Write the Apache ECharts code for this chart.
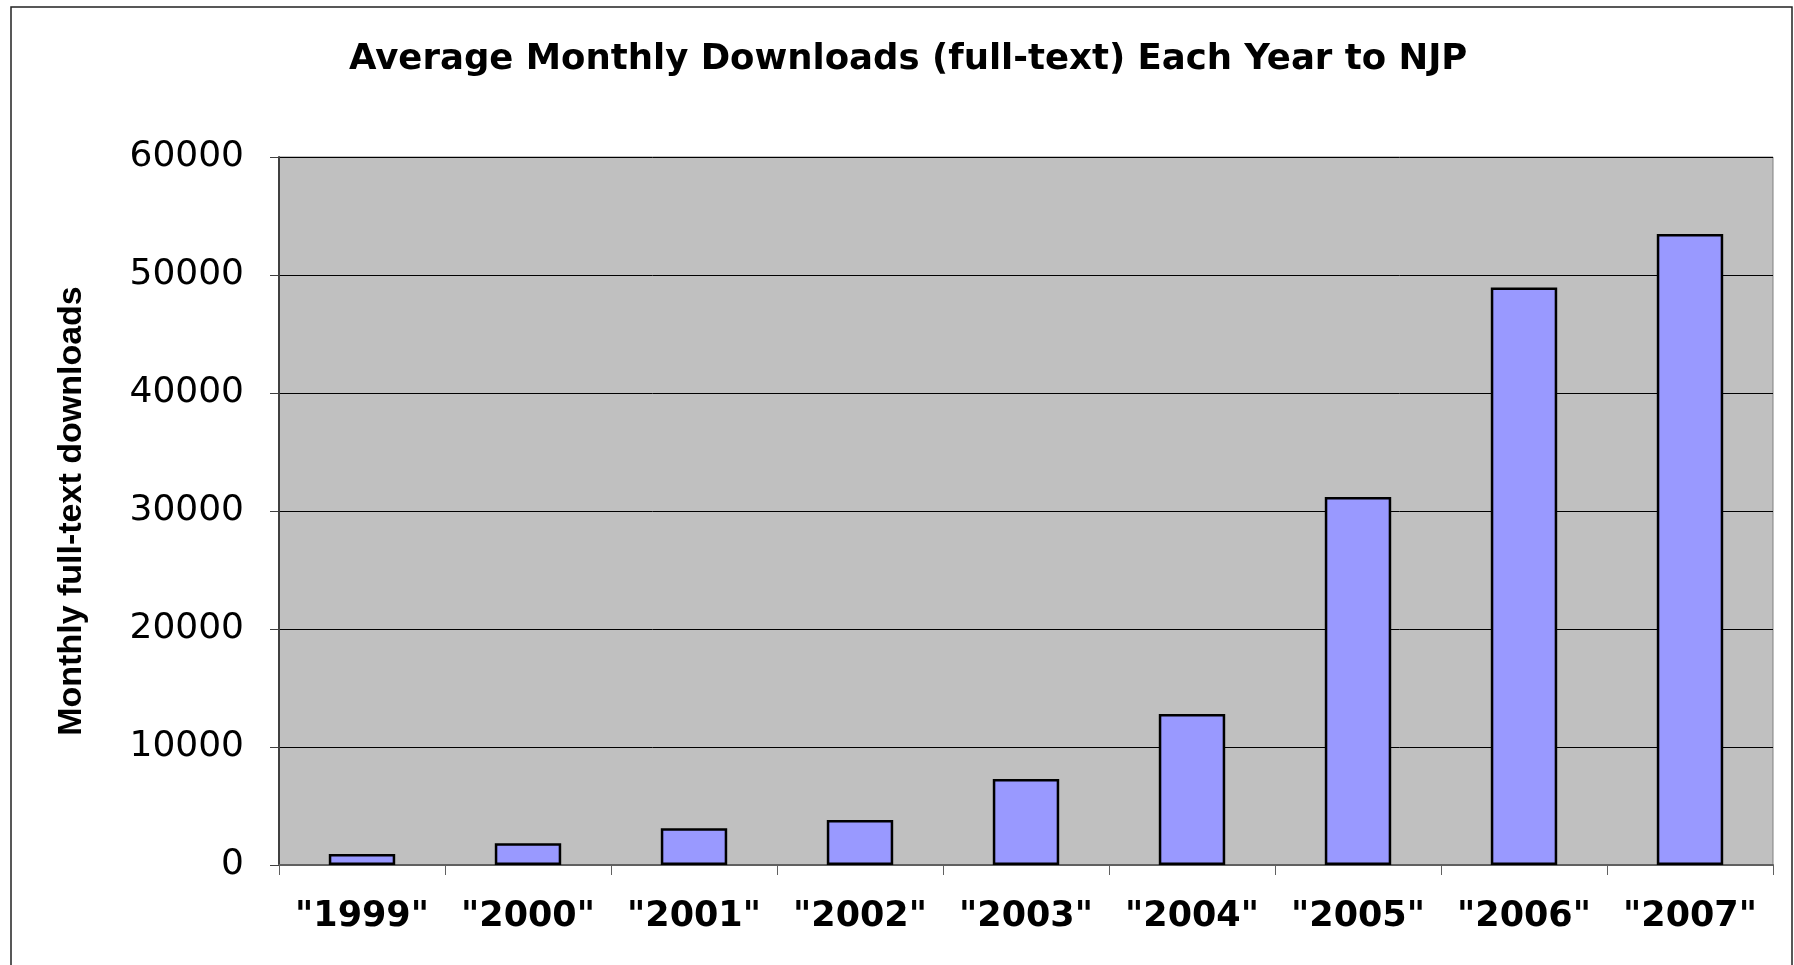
<!DOCTYPE html>
<html>
<head>
    <meta charset="utf-8">
    <script src="https://cdn.jsdelivr.net/npm/echarts@6/dist/echarts.min.js"></script>
    <style>
        * { margin: 0; padding: 0; }
        html, body { width: 100%; height: 100%; background: #fff; }
        .box { width: 1794px; height: 965px; position: absolute; }
    </style>
</head>
<body>
    <div class="box" id="main"></div>
    <script type="text/javascript">
        // 年份 和 每月平均下载量
        var years = ['"1999"', '"2000"', '"2001"', '"2002"', '"2003"', '"2004"', '"2005"', '"2006"', '"2007"'];
        var downloads = [935, 1840, 3120, 3820, 7280, 12790, 31180, 48940, 53480];
        var yTicks = [0, 10000, 20000, 30000, 40000, 50000, 60000];

        var myChart = echarts.init(document.getElementById('main'));
        var wideFont = '"DejaVu Sans", Verdana, sans-serif';
        var armFont = '"Liberation Sans", Arial, sans-serif';

        var option = {
            backgroundColor: '#fff',
            animation: false,
            title: {
                text: 'Average Monthly Downloads (full-text) Each Year to NJP',
                left: 349,
                top: 42,
                padding: 0,
                textStyle: {
                    color: '#000',
                    fontFamily: wideFont,
                    fontWeight: 'bold',
                    fontSize: 35.5
                }
            },
            graphic: [{
                type: 'rect',
                shape: { x: 11, y: 7, width: 1781, height: 1000 },
                style: { fill: 'none', stroke: '#222', lineWidth: 1.5 },
                z: -1
            }],
            grid: {
                left: 279,
                top: 157,
                right: 21,
                bottom: 100,
                show: true,
                backgroundColor: '#C0C0C0',
                borderColor: '#808080',
                borderWidth: 1
            },
            xAxis: {
                type: 'category',
                data: years,
                boundaryGap: true,
                axisLine: { lineStyle: { color: '#606060', width: 2 } },
                axisTick: { show: true, interval: 0, length: 10, lineStyle: { color: '#606060', width: 1 } },
                axisLabel: {
                    interval: 0,
                    hideOverlap: false,
                    color: '#000',
                    fontFamily: wideFont,
                    fontWeight: 'bold',
                    fontSize: 35,
                    margin: 34
                }
            },
            yAxis: {
                type: 'value',
                min: yTicks[0],
                max: yTicks[yTicks.length - 1],
                interval: 10000,
                name: 'Monthly full-text downloads',
                nameLocation: 'middle',
                nameGap: 190,
                nameTextStyle: {
                    color: '#000',
                    fontFamily: armFont,
                    fontWeight: 'bold',
                    fontSize: 34
                },
                axisLine: { show: true, lineStyle: { color: '#404040', width: 2 } },
                axisTick: { show: true, length: 9, lineStyle: { color: '#404040', width: 1 } },
                axisLabel: {
                    color: '#000',
                    fontFamily: wideFont,
                    fontSize: 36,
                    margin: 35,
                    formatter: function (v) { return String(v); }
                },
                splitLine: { show: true, lineStyle: { color: '#000', width: 1 } }
            },
            series: [{
                type: 'bar',
                data: downloads,
                barWidth: '40%',
                itemStyle: {
                    color: '#9999FF',
                    borderColor: '#000',
                    borderWidth: 2.5
                }
            }]
        };

        myChart.setOption(option);
    </script>
</body>
</html>
